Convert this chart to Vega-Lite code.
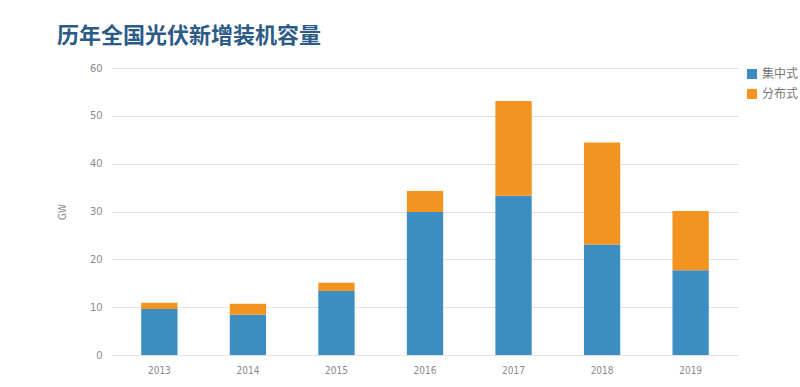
{
  "$schema": "https://vega.github.io/schema/vega-lite/v6.json",
  "width": 626,
  "height": 287,
  "autosize": {"type": "none"},
  "padding": {"left": 112, "top": 68, "right": 62, "bottom": 32},
  "background": "#ffffff",
  "title": {
    "text": "历年全国光伏新增装机容量",
    "anchor": "start",
    "frame": "group",
    "dx": -55,
    "offset": 14,
    "font": "Noto Sans CJK SC",
    "fontSize": 22,
    "fontWeight": "bold",
    "color": "#2b5b86"
  },
  "data": {
    "values": [
      {"year": "2013", "type": "集中式", "k": 0, "v": 9.6},
      {"year": "2013", "type": "分布式", "k": 1, "v": 1.3},
      {"year": "2014", "type": "集中式", "k": 0, "v": 8.4},
      {"year": "2014", "type": "分布式", "k": 1, "v": 2.3},
      {"year": "2015", "type": "集中式", "k": 0, "v": 13.4},
      {"year": "2015", "type": "分布式", "k": 1, "v": 1.7},
      {"year": "2016", "type": "集中式", "k": 0, "v": 29.9},
      {"year": "2016", "type": "分布式", "k": 1, "v": 4.4},
      {"year": "2017", "type": "集中式", "k": 0, "v": 33.3},
      {"year": "2017", "type": "分布式", "k": 1, "v": 19.8},
      {"year": "2018", "type": "集中式", "k": 0, "v": 23.1},
      {"year": "2018", "type": "分布式", "k": 1, "v": 21.3},
      {"year": "2019", "type": "集中式", "k": 0, "v": 17.7},
      {"year": "2019", "type": "分布式", "k": 1, "v": 12.4}
    ]
  },
  "mark": {"type": "bar"},
  "encoding": {
    "x": {
      "field": "year",
      "type": "nominal",
      "scale": {"paddingInner": 0.59, "paddingOuter": 0.33},
      "axis": {
        "title": null,
        "labelAngle": 0,
        "domain": false,
        "ticks": false,
        "labelPadding": 10,
        "labelFont": "DejaVu Sans Condensed",
        "labelFontSize": 10,
        "labelColor": "#888888"
      }
    },
    "y": {
      "field": "v",
      "type": "quantitative",
      "stack": "zero",
      "scale": {"domain": [0, 60]},
      "axis": {
        "title": "GW",
        "titleFont": "DejaVu Sans Condensed",
        "titleFontSize": 10,
        "titleFontWeight": "normal",
        "titleColor": "#888888",
        "titlePadding": 22,
        "values": [0, 10, 20, 30, 40, 50, 60],
        "domain": false,
        "ticks": false,
        "labelPadding": 10,
        "labelFont": "DejaVu Sans Condensed",
        "labelFontSize": 11,
        "labelColor": "#888888",
        "gridColor": "#e2e2e2"
      }
    },
    "color": {
      "field": "type",
      "type": "nominal",
      "scale": {"domain": ["集中式", "分布式"], "range": ["#3b8dc2", "#f39320"]},
      "legend": {
        "title": null,
        "orient": "right",
        "offset": 8,
        "symbolType": "square",
        "symbolSize": 100,
        "symbolStrokeWidth": 0,
        "rowPadding": 8,
        "labelFont": "Noto Sans CJK SC",
        "labelFontSize": 12,
        "labelColor": "#777777"
      }
    },
    "order": {"field": "k", "type": "quantitative", "sort": "ascending"}
  },
  "config": {"view": {"stroke": null}}
}
